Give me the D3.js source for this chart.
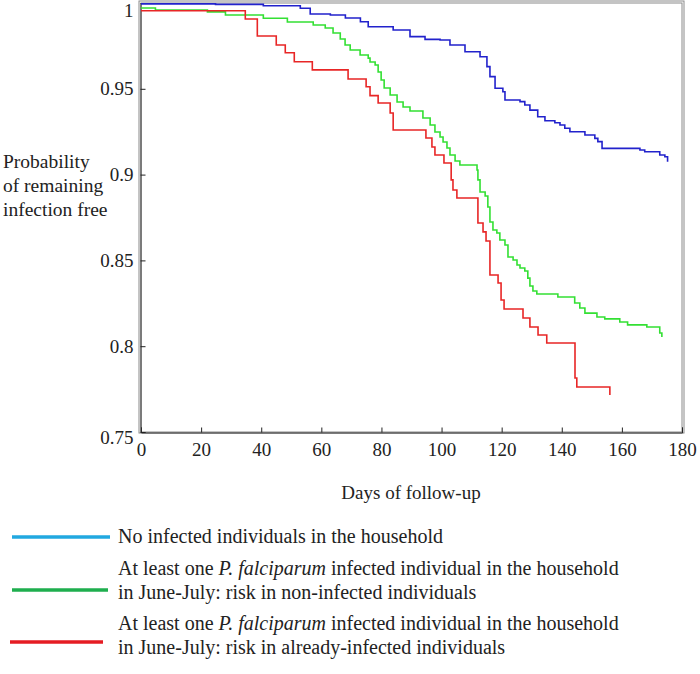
<!DOCTYPE html>
<html>
<head>
<meta charset="utf-8">
<script src="https://cdn.jsdelivr.net/npm/d3@7"></script>
<style>
  html, body { margin: 0; padding: 0; background: #fff; }
  svg { display: block; font-family: "Liberation Serif", "Times New Roman", serif; }
</style>
</head>
<body>
<svg id="chart" width="700" height="674"></svg>
<script>
// ---------- data ----------
const xTicks = [0, 20, 40, 60, 80, 100, 120, 140, 160, 180];
const yTicks = [0.75, 0.8, 0.85, 0.9, 0.95, 1];
const yTickLabels = ["0.75", "0.8", "0.85", "0.9", "0.95", "1"];

const blueDays = [0, 24.8, 40.7, 53, 56.3, 63, 68, 73, 75.6, 83.9, 89.5, 94.5, 99.5, 102.8, 107.8, 112.8, 115.1, 116.1, 117.8, 120.4, 121.1, 126.1, 127.7, 129.4, 132, 134.4, 137.7, 139.4, 141, 142.7, 147.7, 151, 152, 153.4, 166, 167.6, 172.6, 174.3, 175.2];
const blueSurv = [0.9995, 0.9992, 0.9984, 0.9969, 0.9936, 0.993, 0.9913, 0.9891, 0.9862, 0.9843, 0.9804, 0.9788, 0.9784, 0.9755, 0.9716, 0.9687, 0.9629, 0.9571, 0.9503, 0.9483, 0.9435, 0.9425, 0.9406, 0.9376, 0.9337, 0.9314, 0.9302, 0.9289, 0.927, 0.925, 0.9231, 0.9211, 0.9192, 0.9153, 0.9143, 0.9133, 0.9114, 0.9104, 0.9075];

const greenDays = [0, 4.8, 22.1, 28.1, 40.7, 48.7, 57.3, 61.3, 63.9, 66.3, 67.9, 69.6, 72.9, 75.6, 76.2, 77.9, 78.9, 79.9, 80.9, 82.9, 85.2, 87.2, 89.5, 93.8, 96.2, 97.8, 99.5, 100.5, 101.8, 102.8, 104.5, 106.1, 111.8, 112.1, 112.8, 114.5, 115.4, 116.1, 117.1, 118.4, 119.4, 121.1, 122.1, 123.8, 125.1, 126.1, 127.7, 128.7, 129.4, 130.4, 131.7, 138.7, 144.3, 146.0, 147.7, 151.7, 154.3, 159.3, 161.9, 168.3, 172.6, 173.3];
const greenSurv = [0.9971, 0.9959, 0.9948, 0.993, 0.9911, 0.9889, 0.9872, 0.9854, 0.9825, 0.979, 0.9755, 0.9726, 0.9697, 0.9679, 0.9656, 0.9639, 0.9598, 0.9551, 0.9505, 0.9464, 0.9423, 0.9394, 0.9371, 0.933, 0.9289, 0.9248, 0.9219, 0.919, 0.9155, 0.9114, 0.9079, 0.9056, 0.9027, 0.8969, 0.8899, 0.8875, 0.8811, 0.8724, 0.8677, 0.866, 0.8619, 0.859, 0.852, 0.8502, 0.8473, 0.8456, 0.8438, 0.8397, 0.8351, 0.8322, 0.8304, 0.8287, 0.8252, 0.8223, 0.8193, 0.817, 0.8159, 0.8141, 0.8124, 0.8112, 0.8077, 0.8054];

const redDays = [0, 34.7, 38.7, 45.0, 48.0, 51.0, 57.0, 68.9, 74.9, 76.2, 78.9, 82.9, 83.9, 94.8, 96.8, 97.8, 100.8, 103.2, 103.8, 105.1, 112.1, 113.8, 114.8, 116.1, 118.8, 119.8, 120.8, 127.1, 129.4, 132.1, 135.0, 144.4, 145.0, 156.0];
const redSurv = [0.9955, 0.9907, 0.9808, 0.9755, 0.971, 0.9658, 0.961, 0.9557, 0.9512, 0.946, 0.9417, 0.9359, 0.926, 0.9213, 0.9161, 0.9114, 0.9068, 0.8969, 0.891, 0.8864, 0.8718, 0.8666, 0.8613, 0.8415, 0.8368, 0.8269, 0.8217, 0.8164, 0.8112, 0.8065, 0.8019, 0.7815, 0.7762, 0.7716];

const xLabel = "Days of follow-up";
const yLabelLines = ["Probability", "of remaining", "infection free"];

// ---------- layout ----------
const svg = d3.select("#chart");
const X0 = 141, X1 = 682, Y0 = 432, Y1 = 3;
const x = d3.scaleLinear().domain([0, 180]).range([X0, X1]);
const y = d3.scaleLinear().domain([0.75, 1]).range([Y0, Y1]);

// frame (double grey line)
svg.append("rect").attr("x", X0 - 2).attr("y", Y1 - 2).attr("width", X1 - X0 + 4).attr("height", Y0 - Y1 + 3)
  .attr("fill", "none").attr("stroke", "#8a8a8a").attr("stroke-width", 1);
svg.append("rect").attr("x", X0).attr("y", Y1).attr("width", X1 - X0).attr("height", Y0 - Y1)
  .attr("fill", "none").attr("stroke", "#8a8a8a").attr("stroke-width", 1);

// x axis (ticks inside)
const xAxis = d3.axisBottom(x).tickValues(xTicks).tickSize(-5).tickPadding(10).tickFormat(d3.format("d"));
const gx = svg.append("g").attr("transform", `translate(0,${Y0 + 0.5})`).call(xAxis);
gx.select(".domain").attr("stroke", "#333");
gx.selectAll(".tick line").attr("stroke", "#222");
gx.selectAll("text").attr("font-size", 19).attr("fill", "#222").attr("font-family", "Liberation Serif");

// y axis (ticks inside)
const yAxis = d3.axisLeft(y).tickValues(yTicks).tickSize(-5).tickPadding(7)
  .tickFormat((d, i) => yTickLabels[i]);
const gy = svg.append("g").attr("transform", `translate(${X0 - 0.5},0)`).call(yAxis);
gy.select(".domain").attr("stroke", "#333");
gy.selectAll(".tick line").attr("stroke", "#222");
gy.selectAll("text").attr("font-size", 19).attr("fill", "#222").attr("font-family", "Liberation Serif");
gy.selectAll(".tick").filter(d => d === 1).select("text").attr("dy", "0.72em");
gy.selectAll(".tick").filter(d => d === 0.75).select("text").attr("dy", "0.62em");

// curves
const line = d3.line().x(d => x(d[0])).y(d => y(d[1])).curve(d3.curveStepAfter);
const series = [
  { days: blueDays, surv: blueSurv, color: "#2222cc" },
  { days: greenDays, surv: greenSurv, color: "#33e033" },
  { days: redDays, surv: redSurv, color: "#e82626" }
];
series.forEach(s => {
  svg.append("path").datum(s.days.map((d, i) => [d, s.surv[i]]))
    .attr("d", line).attr("fill", "none").attr("stroke", s.color).attr("stroke-width", 1.6);
});

// axis titles
svg.append("text").attr("x", 411).attr("y", 499).attr("text-anchor", "middle")
  .attr("font-size", 19).attr("fill", "#222").text(xLabel);
svg.append("text").attr("x", 3).attr("y", 168).attr("font-size", 19.5).attr("fill", "#222")
  .selectAll("tspan").data(yLabelLines).join("tspan")
  .attr("x", 3).attr("dy", (d, i) => i === 0 ? 0 : 24).text(d => d);

// legend
const legend = [
  { color: "#22a8e0", ly: 537, x1: 12, x2: 110, lines: [[{t: "No infected individuals in the household"}]], ty: [543] },
  { color: "#1eae4e", ly: 590, x1: 12, x2: 108, lines: [
      [{t: "At least one "}, {t: "P. falciparum", i: true}, {t: " infected individual in the household"}],
      [{t: "in June-July: risk in non-infected individuals"}]], ty: [575, 599] },
  { color: "#e51c23", ly: 642, x1: 10, x2: 103, lines: [
      [{t: "At least one "}, {t: "P. falciparum", i: true}, {t: " infected individual in the household"}],
      [{t: "in June-July: risk in already-infected individuals"}]], ty: [630, 654] }
];
legend.forEach(L => {
  svg.append("line").attr("x1", L.x1).attr("x2", L.x2).attr("y1", L.ly).attr("y2", L.ly)
    .attr("stroke", L.color).attr("stroke-width", 3.5);
  L.lines.forEach((parts, k) => {
    const t = svg.append("text").attr("x", 118).attr("y", L.ty[k]).attr("font-size", 20).attr("fill", "#222");
    parts.forEach(p => t.append("tspan").attr("font-style", p.i ? "italic" : "normal").text(p.t));
  });
});
</script>
</body>
</html>
